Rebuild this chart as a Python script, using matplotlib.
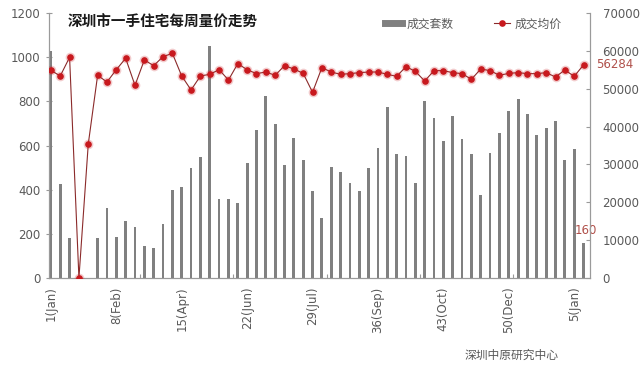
import numpy as np
import matplotlib
matplotlib.use("Agg")
import matplotlib.pyplot as plt
from matplotlib.lines import Line2D

# 每周成交套数 (左轴) 与成交均价 (右轴)
volumes = [1028, 426, 181, 0, 0, 181, 317, 186, 258, 231, 145, 136, 245, 399,
           413, 498, 550, 1052, 359, 357, 340, 522, 672, 824, 696, 512, 634, 535,
           395, 270, 504, 480, 432, 396, 497, 589, 776, 563, 554, 432, 800, 725,
           620, 735, 631, 563, 377, 567, 658, 756, 809, 743, 649, 679, 711, 533,
           584, 160]
prices = [54860, 53360, 58290, 0, 35400, 53540, 51770, 55030, 58030, 50890,
          57590, 56090, 58470, 59340, 53360, 49660, 53360, 53800, 55030, 52300,
          56620, 55030, 53980, 54410, 53540, 56090, 55210, 54060, 49050, 55560,
          54410, 53800, 53980, 54240, 54410, 54410, 53800, 53270, 55820, 54590,
          52040, 54770, 54770, 54240, 53980, 52480, 55210, 54770, 53540, 54060,
          54240, 53980, 53980, 54240, 53100, 54940, 53270, 56284]
tick_pos = [0, 7, 14, 21, 28, 35, 42, 49, 56]
tick_labels = ["1(Jan)", "8(Feb)", "15(Apr)", "22(Jun)", "29(Jul)",
               "36(Sep)", "43(Oct)", "50(Dec)", "5(Jan)"]

CJK = ["Noto Sans CJK SC", "DejaVu Sans"]
GRAY_TXT = "#595959"
SPINE = "#9a9a9a"
BAR = "#808080"
RED = "#c8191e"
LINE = "#8b2a2a"
LABEL_RED = "#b0504a"

fig = plt.figure(figsize=(6.4, 3.66), dpi=100)
ax = fig.add_axes([0.0766, 0.2404, 0.8454, 0.7241])
ax2 = ax.twinx()

x = np.arange(len(volumes))
ax.bar(x, volumes, width=0.3, color=BAR, zorder=2)
ax.set_ylim(0, 1200)
ax.set_yticks(range(0, 1201, 200))
ax.set_xlim(-0.2, 57.7)

ax2.plot(x, prices, color=LINE, linewidth=0.8, zorder=3)
ax2.plot(x, prices, linestyle="none", marker="o", markersize=7,
         color=RED, alpha=0.22, markeredgewidth=0, zorder=3)
ax2.plot(x, prices, linestyle="none", marker="o", markersize=4.8,
         color=RED, markeredgewidth=0, zorder=4)
ax2.set_ylim(0, 70000)
ax2.set_yticks(range(0, 70001, 10000))

for a in (ax, ax2):
    a.spines["top"].set_visible(False)
    for s in ("left", "right", "bottom"):
        a.spines[s].set_color(SPINE)
        a.spines[s].set_linewidth(0.8)
    a.tick_params(axis="y", colors=GRAY_TXT, labelsize=8.5, length=3,
                  color=SPINE, width=0.8)

ax.tick_params(axis="y", direction="inout", length=4, pad=4)
ax2.tick_params(axis="y", direction="in", pad=9)

ax.set_xticks(tick_pos)
ax.set_xticklabels(tick_labels, rotation=90, fontsize=8.5, color=GRAY_TXT)
ax.tick_params(axis="x", length=0, pad=6)
ax.set_xticks([9.5, 19.5, 29.5, 39.5, 49.5], minor=True)
ax.tick_params(axis="x", which="minor", direction="in", length=3,
               color=SPINE, width=0.8)

# 末值标注
ax.annotate(str(volumes[-1]), (x[-1], volumes[-1]), xytext=(1.5, 4),
            textcoords="offset points", ha="center", va="bottom",
            fontsize=8.5, color=LABEL_RED)
ax2.annotate(str(prices[-1]), (x[-1], prices[-1]), xytext=(9, 0),
             textcoords="offset points", ha="left", va="center",
             fontsize=8.5, color=LABEL_RED, annotation_clip=False)

fig.text(0.106, 0.94, "深圳市一手住宅每周量价走势", family=CJK,
         fontsize=10.5, fontweight="bold", va="center", color="#1a1a1a")

handles = [Line2D([], [], color=BAR, linewidth=5),
           Line2D([], [], color=LINE, linewidth=0.8, marker="o",
                  markersize=4.8, markerfacecolor=RED, markeredgewidth=0)]
leg = fig.legend(handles, ["成交套数", "成交均价"], loc="center",
                 bbox_to_anchor=(0.74, 0.935), ncol=2, frameon=False,
                 prop={"family": CJK, "size": 8.5}, handlelength=1.4,
                 columnspacing=3.4, handletextpad=0.4)
for t in leg.get_texts():
    t.set_color(GRAY_TXT)

fig.text(0.8, 0.03, "深圳中原研究中心", family=CJK, fontsize=8.5,
         color=GRAY_TXT, ha="center", va="center")

fig.savefig("out.png", dpi=100)
